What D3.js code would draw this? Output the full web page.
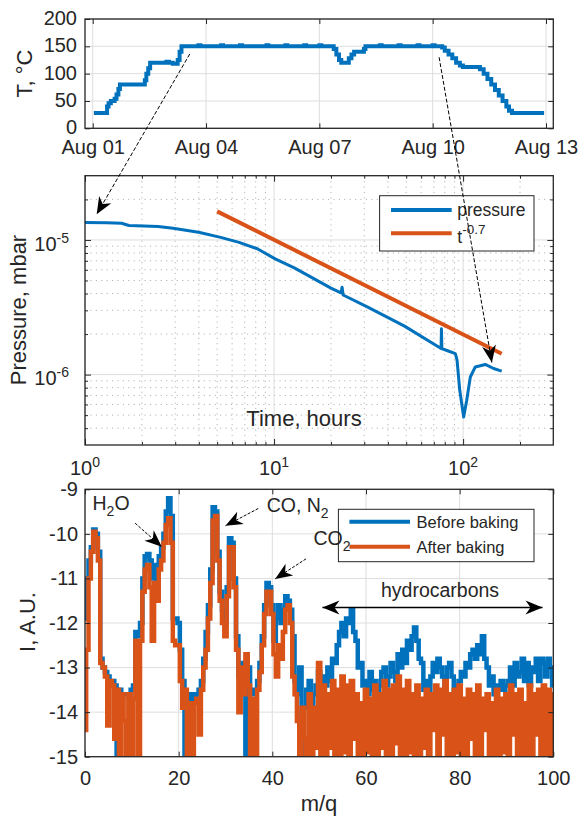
<!DOCTYPE html>
<html>
<head>
<meta charset="utf-8">
<script src="https://cdn.jsdelivr.net/npm/d3@7"></script>
<style>
  body { margin: 0; background: #fff; }
  svg { font-family: "Liberation Sans", Arial, Helvetica, sans-serif; }
</style>
</head>
<body>
<div id="viz"></div>
<script>
// ---- data ----

// temperature: days after Aug 01 00:00, deg C (step plot)
var tempDays = [0.03,0.38,0.42,0.48,0.58,0.63,0.68,0.72,1.38,1.42,1.47,1.52,1.95,2.02,2.12,2.25,2.30,2.35,
  2.8,2.85,3.4,3.45,3.9,3.95,4.6,4.65,5.1,5.15,5.6,5.65,6.0,6.05,6.38,6.45,6.52,6.58,6.78,6.85,6.92,7.18,7.22,
  7.6,7.65,8.1,8.15,8.6,8.65,9.0,9.05,9.25,9.32,9.42,9.52,9.62,9.72,9.80,10.25,10.35,10.45,10.55,10.65,10.75,
  10.85,10.95,11.02,11.1,11.95];
var tempVals = [28,40,46,50,54,62,72,80,88,100,110,120,122,120,118,125,140,150,
  152,150,152,150,152,150,152,150,152,150,152,150,152,150,145,135,125,120,128,135,140,145,150,
  152,150,152,150,152,150,152,150,148,142,135,128,120,115,112,108,100,90,80,70,60,
  50,40,32,28,28];
var dayTicks = [0, 3, 6, 9, 12];
var dayTickLabels = ['Aug 01', 'Aug 04', 'Aug 07', 'Aug 10', 'Aug 13'];
var tempTicks = [0, 50, 100, 150, 200];

// pressure vs time (hours), mbar
var presHours = [1,1.3,1.56,1.71,2.44,2.92,3.99,5.22,6.53,8.16,10.2,12.8,20,22.6,22.9,23.2,31.3,49,76.5,76.8,
  77.2,82.1,91,92.9,96,100.7,104.5,109.2,116,131,145,160];
var presVals = [1.35e-5,1.34e-5,1.33e-5,1.28e-5,1.26e-5,1.22e-5,1.14e-5,1.045e-5,9.6e-6,8.6e-6,
  7.2e-6,6.2e-6,4.39e-6,4.05e-6,4.45e-6,3.9e-6,3.17e-6,2.29e-6,1.56e-6,2.19e-6,
  1.56e-6,1.51e-6,1.43e-6,1.28e-6,7.65e-7,4.85e-7,6.45e-7,9.6e-7,1.14e-6,1.19e-6,1.11e-6,1.06e-6];
// t^-0.7 guide line end points
var fitHours = [5, 160];
var fitVals = [1.63e-5, 1.43e-6];
var hourTicks = [1, 10, 100], hourExp = ['0', '1', '2'];
var hourMinor = [2,3,4,5,6,7,8,9,20,30,40,50,60,70,80,90,200];
var presTicks = [1e-6, 1e-5], presExp = ['-6', '-5'];
var presMinor = [4e-7,5e-7,6e-7,7e-7,8e-7,9e-7,2e-6,3e-6,4e-6,5e-6,6e-6,7e-6,8e-6,9e-6,2e-5];

// mass spectra, one value every 0.5 m/q from 0 to 100
var mqStep = 0.5;
var before = [
  -11.9,-11.0,-10.6,-10.3,-9.9,-10.0,-10.4,-12.8,-13.0,-13.1,
  -13.2,-13.3,-13.3,-13.4,-15.0,-13.5,-13.6,-13.6,-13.6,-13.6,
  -13.5,-13.4,-12.2,-12.3,-12.0,-11.0,-10.5,-10.45,-10.6,-11.0,
  -10.7,-11.1,-10.5,-10.3,-10.0,-9.5,-9.2,-9.6,-11.9,-11.9,
  -12.0,-12.6,-13.3,-15.0,-13.6,-15.0,-13.6,-13.7,-13.6,-13.5,
  -13.3,-12.8,-12.2,-11.6,-10.8,-9.4,-9.5,-10.4,-11.3,-11.7,
  -12.0,-11.2,-10.1,-10.2,-11.0,-12.3,-13.2,-12.9,-13.4,-15.0,
  -13.0,-13.5,-13.6,-13.5,-13.3,-12.9,-12.3,-11.6,-11.1,-11.2,
  -11.6,-12.4,-11.9,-11.6,-12.0,-11.7,-11.4,-11.5,-11.7,-12.3,
  -13.3,-13.6,-13.0,-15.0,-13.9,-13.5,-13.3,-14.2,-13.6,-13.4,
  -13.1,-13.5,-13.2,-13.4,-13.0,-13.3,-12.8,-12.9,-12.5,-12.2,
  -12.0,-12.3,-11.9,-12.0,-11.7,-12.2,-12.4,-13.0,-12.9,-13.4,
  -13.3,-13.6,-13.1,-13.5,-13.3,-13.6,-13.4,-13.1,-13.0,-13.4,
  -13.2,-12.9,-13.1,-13.3,-12.7,-13.0,-12.6,-12.9,-12.4,-12.6,
  -12.3,-12.1,-12.4,-12.8,-12.9,-13.5,-13.3,-13.6,-13.2,-12.9,
  -13.1,-12.8,-13.0,-13.2,-13.4,-13.0,-12.9,-13.2,-13.5,-13.4,
  -13.3,-13.1,-13.2,-12.9,-13.0,-12.7,-12.6,-12.8,-12.5,-12.7,
  -12.3,-12.8,-13.0,-13.4,-13.2,-13.6,-13.4,-13.5,-13.3,-13.5,
  -13.4,-13.3,-13.0,-13.4,-12.9,-13.2,-13.1,-12.8,-13.3,-12.9,
  -13.4,-13.0,-13.1,-12.8,-13.3,-12.8,-12.9,-13.2,-12.8,-13.0,
  -13.4];
var after = [
  -14.4,-12.6,-11.0,-10.4,-9.95,-10.1,-10.6,-12.9,-13.0,-13.2,
  -14.3,-13.3,-13.4,-14.6,-13.5,-15.0,-13.6,-14.2,-15.0,-13.6,
  -15.0,-13.7,-12.4,-15.0,-12.4,-11.3,-10.8,-10.7,-11.2,-12.4,
  -11.1,-11.5,-10.8,-10.6,-10.2,-9.8,-9.65,-10.2,-12.4,-12.5,
  -12.5,-13.3,-13.9,-13.5,-15.0,-13.8,-15.0,-13.8,-13.7,-14.5,
  -13.5,-13.0,-12.6,-11.9,-11.1,-9.7,-9.6,-10.6,-11.5,-12.0,
  -12.3,-11.4,-10.3,-10.3,-11.2,-12.6,-14.0,-13.0,-13.6,-12.7,
  -13.4,-15.0,-13.7,-15.0,-13.5,-13.1,-12.5,-11.8,-11.3,-11.3,
  -11.8,-12.7,-13.2,-12.5,-12.8,-12.2,-11.7,-11.6,-12.0,-13.2,
  -13.6,-14.2,-15.0,-13.9,-14.6,-15.0,-13.6,-15.0,-13.9,-14.8,
  -12.9,-15.0,-13.4,-15.0,-13.6,-14.8,-13.3,-15.0,-13.5,-15.0,
  -13.2,-14.9,-13.4,-15.0,-13.3,-14.6,-13.6,-15.0,-13.8,-15.0,
  -13.5,-14.9,-13.7,-15.0,-13.4,-15.0,-13.6,-14.8,-13.3,-15.0,
  -13.5,-15.0,-13.4,-14.7,-13.2,-15.0,-13.5,-15.0,-13.3,-14.9,
  -13.6,-15.0,-13.4,-15.0,-13.7,-14.8,-13.5,-15.0,-13.6,-14.4,
  -13.4,-15.0,-13.5,-14.5,-13.3,-15.0,-13.6,-15.0,-13.5,-14.9,
  -13.4,-15.0,-13.7,-15.0,-13.5,-14.6,-13.6,-15.0,-13.4,-15.0,
  -13.7,-14.4,-13.6,-15.0,-13.8,-15.0,-13.5,-15.0,-13.7,-14.9,
  -13.6,-15.0,-13.4,-14.5,-13.6,-15.0,-13.5,-15.0,-13.8,-15.0,
  -13.4,-15.0,-13.6,-14.5,-13.5,-15.0,-13.4,-15.0,-13.5,-15.0,
  -13.6];
var mqTicks = [0, 20, 40, 60, 80, 100];
var iTicks = [-15, -14, -13, -12, -11, -10, -9];
var iTickLabels = ['-15', '-14', '-13', '-12', '-11', '-10', '-9'];

// ---- layout ----
var blue = '#0072BD', orange = '#D95319', ink = '#262626',
    gridCol = '#dedede', minorCol = '#b5b5b5';

var p1 = { l: 85, r: 553.3, t: 19, b: 128.3 },
    p2 = { l: 85, r: 553.3, t: 175.7, b: 445 },
    p3 = { l: 85, r: 553.3, t: 489.3, b: 756.7 };

var svg = d3.select('#viz').append('svg')
  .attr('width', 578)
  .attr('height', 822);

var aug1 = new Date(2017, 7, 1);
function dayDate(d) { return new Date(aug1.getTime() + d * 864e5); }

var x1 = d3.scaleTime()
  .domain([dayDate(-0.204), dayDate(12.193)])
  .range([p1.l, p1.r]);
var y1 = d3.scaleLinear().domain([0, 200]).range([p1.b, p1.t]);

var x2 = d3.scaleLog().domain([1, 300]).range([p2.l, p2.r]);
var y2 = d3.scaleLog().domain([3e-7, 3e-5]).range([p2.b, p2.t]);

var x3 = d3.scaleLinear().domain([0, 100]).range([p3.l, p3.r]);
var y3 = d3.scaleLinear().domain([-15, -9]).range([p3.b, p3.t]);

function clip(id, p) {
  svg.append('clipPath').attr('id', id).append('rect')
    .attr('x', p.l).attr('y', p.t).attr('width', p.r - p.l).attr('height', p.b - p.t);
}
clip('c1', p1); clip('c2', p2); clip('c3', p3);

// grid lines
function grid(g, p, x, y, xv, yv, color, dash) {
  g.selectAll(null).data(xv).enter().append('line')
    .attr('x1', x).attr('x2', x).attr('y1', p.t).attr('y2', p.b)
    .attr('stroke', color).attr('stroke-dasharray', dash);
  g.selectAll(null).data(yv).enter().append('line')
    .attr('y1', y).attr('y2', y).attr('x1', p.l).attr('x2', p.r)
    .attr('stroke', color).attr('stroke-dasharray', dash);
}

// ticks pointing inward on all four sides
function ticks(g, p, x, y, xv, yv, len) {
  var ax = [
    ['translate(0,' + p.b + ')', d3.axisBottom(x).tickValues(xv)],
    ['translate(0,' + p.t + ')', d3.axisTop(x).tickValues(xv)],
    ['translate(' + p.l + ',0)', d3.axisLeft(y).tickValues(yv)],
    ['translate(' + p.r + ',0)', d3.axisRight(y).tickValues(yv)]
  ];
  ax.forEach(function(a) {
    var gg = g.append('g').attr('transform', a[0])
      .call(a[1].tickSizeInner(-len).tickSizeOuter(0).tickFormat(''));
    gg.select('.domain').remove();
    gg.selectAll('line').attr('stroke', ink);
  });
}

function labels(g, axis, tr, size) {
  var gg = g.append('g').attr('transform', tr).call(axis);
  gg.select('.domain').remove();
  gg.selectAll('line').remove();
  gg.selectAll('text').attr('fill', ink).attr('font-size', size)
    .attr('font-family', '"Liberation Sans", Arial, sans-serif');
  return gg;
}

function box(g, p) {
  g.append('rect').attr('x', p.l).attr('y', p.t)
    .attr('width', p.r - p.l).attr('height', p.b - p.t)
    .attr('fill', 'none').attr('stroke', ink).attr('stroke-width', 1.3);
}

function ylabel(g, cx, cy, txt) {
  g.append('text')
    .attr('transform', 'translate(' + cx + ',' + cy + ') rotate(-90)')
    .attr('text-anchor', 'middle').attr('dy', '0.35em')
    .attr('font-size', 22).attr('fill', ink).text(txt);
}

// text with a raised or lowered part: parts = [[text, shift, size], ...]
function richText(g, x, y, anchor, parts) {
  var t = g.append('text').attr('x', x).attr('y', y)
    .attr('text-anchor', anchor).attr('fill', ink);
  var prev = 0;
  parts.forEach(function(pt) {
    t.append('tspan').attr('dy', pt[1] - prev).attr('font-size', pt[2]).text(pt[0]);
    prev = pt[1];
  });
  return t;
}

function arrowHead(g, x, y, ang, L, Wd, ind) {
  var c = Math.cos(ang), s = Math.sin(ang);
  var pts = [[0, 0], [-L, -Wd], [-L + ind, 0], [-L, Wd]].map(function(q) {
    return [x + q[0] * c - q[1] * s, y + q[0] * s + q[1] * c];
  });
  g.append('path').attr('d', 'M' + pts.join('L') + 'Z').attr('fill', '#000');
}

function arrow(g, a, b, dash, width, both) {
  var ang = Math.atan2(b[1] - a[1], b[0] - a[0]);
  g.append('line')
    .attr('x1', a[0]).attr('y1', a[1]).attr('x2', b[0]).attr('y2', b[1])
    .attr('stroke', '#000').attr('stroke-width', width)
    .attr('stroke-dasharray', dash);
  arrowHead(g, b[0], b[1], ang, 17, 7, 5);
  if (both) arrowHead(g, a[0], a[1], ang + Math.PI, 17, 7, 5);
}

// ---- panel 1: temperature ----
var g1 = svg.append('g');
grid(g1, p1, function(d) { return x1(dayDate(d)); }, y1, dayTicks, tempTicks, gridCol, null);

g1.append('path')
  .datum(tempDays.map(function(d, i) { return [d, tempVals[i]]; }))
  .attr('clip-path', 'url(#c1)')
  .attr('fill', 'none').attr('stroke', blue).attr('stroke-width', 4)
  .attr('d', d3.line()
    .x(function(d) { return x1(dayDate(d[0])); })
    .y(function(d) { return y1(d[1]); })
    .curve(d3.curveStepAfter));

ticks(g1, p1, x1, y1, dayTicks.map(dayDate), tempTicks, 5);
labels(g1, d3.axisBottom(x1).tickValues(dayTicks.map(dayDate)).tickSize(0).tickPadding(12)
  .tickFormat(function(d, i) { return dayTickLabels[i]; }), 'translate(0,' + p1.b + ')', 20);
labels(g1, d3.axisLeft(y1).tickValues(tempTicks).tickSize(0).tickPadding(8),
  'translate(' + p1.l + ',-1)', 20);
box(g1, p1);
ylabel(g1, 24, 73.6, 'T, \u00B0C');

// ---- panel 2: pressure ----
var g2 = svg.append('g');
grid(g2, p2, x2, y2, hourMinor, presMinor, minorCol, '1.2,4.2');
grid(g2, p2, x2, y2, hourTicks, presTicks, gridCol, null);

g2.append('path')
  .datum(presHours.map(function(d, i) { return [d, presVals[i]]; }))
  .attr('clip-path', 'url(#c2)')
  .attr('fill', 'none').attr('stroke', blue).attr('stroke-width', 3)
  .attr('stroke-linejoin', 'round')
  .attr('d', d3.line()
    .x(function(d) { return x2(d[0]); })
    .y(function(d) { return y2(d[1]); }));

g2.append('path')
  .datum(fitHours.map(function(d, i) { return [d, fitVals[i]]; }))
  .attr('fill', 'none').attr('stroke', orange).attr('stroke-width', 4)
  .attr('d', d3.line()
    .x(function(d) { return x2(d[0]); })
    .y(function(d) { return y2(d[1]); }));

ticks(g2, p2, x2, y2, hourTicks, presTicks, 6);
ticks(g2, p2, x2, y2, hourMinor, presMinor, 3);
box(g2, p2);

hourTicks.forEach(function(h, i) {
  richText(g2, x2(h), p2.b + 30, 'middle', [['10', 0, 20], [hourExp[i], -8, 14]]);
});
presTicks.forEach(function(v, i) {
  richText(g2, 69, y2(v) + 10.7, 'end', [['10', 0, 20], [presExp[i], -8, 14]]);
});
ylabel(g2, 18, 310, 'Pressure, mbar');
g2.append('text').attr('x', 304).attr('y', 418.3).attr('dy', '0.35em')
  .attr('text-anchor', 'middle').attr('font-size', 22).attr('fill', ink)
  .text('Time, hours');

// legend
var lg2 = g2.append('g');
lg2.append('rect').attr('x', 379.6).attr('y', 195.7).attr('width', 154.4).attr('height', 55.3)
  .attr('fill', '#fff').attr('stroke', ink).attr('stroke-width', 1);
lg2.append('line').attr('x1', 391).attr('x2', 451.7).attr('y1', 210).attr('y2', 210)
  .attr('stroke', blue).attr('stroke-width', 4);
lg2.append('line').attr('x1', 391).attr('x2', 451.7).attr('y1', 233.3).attr('y2', 233.3)
  .attr('stroke', orange).attr('stroke-width', 4);
lg2.append('text').attr('x', 457.3).attr('y', 216).attr('font-size', 17.5)
  .attr('fill', ink).text('pressure');
richText(lg2, 457.3, 243, 'start', [['t', 0, 17.5], ['-0.7', -9, 13.5]]);

// ---- panel 3: mass spectra ----
var g3 = svg.append('g');
grid(g3, p3, x3, y3, mqTicks, iTicks, gridCol, null);

var specLine = d3.line()
  .x(function(d, i) { return x3(i * mqStep); })
  .y(function(d) { return y3(d); })
  .curve(d3.curveStep);

g3.append('path').datum(before)
  .attr('clip-path', 'url(#c3)')
  .attr('fill', 'none').attr('stroke', blue).attr('stroke-width', 4.5)
  .attr('d', specLine);
g3.append('path').datum(after)
  .attr('clip-path', 'url(#c3)')
  .attr('fill', 'none').attr('stroke', orange).attr('stroke-width', 4.5)
  .attr('d', specLine);

ticks(g3, p3, x3, y3, mqTicks, iTicks, 5);
labels(g3, d3.axisBottom(x3).tickValues(mqTicks).tickSize(0).tickPadding(14),
  'translate(0,' + p3.b + ')', 20);
labels(g3, d3.axisLeft(y3).tickValues(iTicks).tickSize(0).tickPadding(7)
  .tickFormat(function(d, i) { return iTickLabels[i]; }), 'translate(' + p3.l + ',0)', 20);
box(g3, p3);
ylabel(g3, 27.5, 622, 'I, A.U.');
g3.append('text').attr('x', 319).attr('y', 803).attr('dy', '0.35em')
  .attr('text-anchor', 'middle').attr('font-size', 22).attr('fill', ink).text('m/q');

// legend
var lg3 = g3.append('g');
lg3.append('rect').attr('x', 338.4).attr('y', 509.3).attr('width', 195.6).attr('height', 52.4)
  .attr('fill', '#fff').attr('stroke', ink).attr('stroke-width', 1);
lg3.append('line').attr('x1', 349.4).attr('x2', 410).attr('y1', 521.7).attr('y2', 521.7)
  .attr('stroke', blue).attr('stroke-width', 4);
lg3.append('line').attr('x1', 349.4).attr('x2', 410).attr('y1', 546.7).attr('y2', 546.7)
  .attr('stroke', orange).attr('stroke-width', 4);
lg3.append('text').attr('x', 416.5).attr('y', 527.7).attr('font-size', 16.5)
  .attr('fill', ink).text('Before baking');
lg3.append('text').attr('x', 416.5).attr('y', 552.7).attr('font-size', 16.5)
  .attr('fill', ink).text('After baking');

// annotations
var an = svg.append('g');
richText(an, x3(1.6), y3(-9.46), 'start', [['H', 0, 19.5], ['2', 6, 14], ['O', 0, 19.5]]);
richText(an, x3(38.8), y3(-9.5), 'start', [['CO, N', 0, 19.5], ['2', 6, 14]]);
richText(an, x3(48.8), y3(-10.25), 'start', [['CO', 0, 19.5], ['2', 6, 14]]);
an.append('text').attr('x', x3(63.2)).attr('y', y3(-11.42))
  .attr('font-size', 19.5).attr('fill', ink).text('hydrocarbons');

arrow(an, [x3(10.7), y3(-9.76)], [x3(16.4), y3(-10.29)], '3,1.5', 1, false);
arrow(an, [x3(37.0), y3(-9.43)], [x3(30.0), y3(-9.82)], '3,1.5', 1, false);
arrow(an, [x3(47.2), y3(-10.56)], [x3(40.6), y3(-11.01)], '3,1.5', 1, false);
arrow(an, [x3(50.7), y3(-11.65)], [x3(97.7), y3(-11.65)], null, 1.5, true);

// arrows linking temperature plateau to pressure curve
arrow(an, [x1(dayDate(2.57)), y1(136)], [x2(1.153), y2(1.55e-5)], '4,2', 1, false);
arrow(an, [x1(dayDate(9.17)), y1(130)], [x2(142), y2(1.23e-6)], '4,2', 1, false);
</script>
</body>
</html>
